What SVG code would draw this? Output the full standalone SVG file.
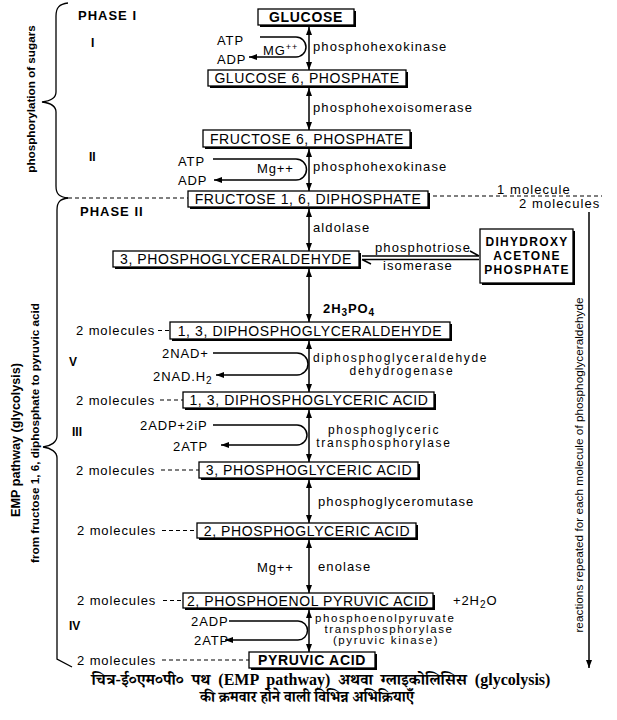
<svg xmlns="http://www.w3.org/2000/svg" width="617" height="720" viewBox="0 0 617 720">
<defs>
<style>
text{font-family:"Liberation Sans",Arial,Helvetica,sans-serif;fill:#000}
.bx{fill:#fff;stroke:#000;stroke-width:1.3}
.sh{fill:#000}
.bt{font-size:14px;letter-spacing:0.6px;text-anchor:middle}
.bb{font-weight:bold;letter-spacing:0.7px}
.dh{font-size:12px;font-weight:bold;letter-spacing:1.3px;text-anchor:middle}
.lb{font-size:13px;letter-spacing:1.1px}
.tl{font-size:12px;letter-spacing:1.7px}
.sl{font-size:11.5px;letter-spacing:1.6px}
.cf{font-size:13px;letter-spacing:0.9px}
.mid{text-anchor:middle}
.hd{font-size:13px;font-weight:bold;letter-spacing:1px}
.rn{font-size:12px;font-weight:bold}
.ln{fill:none;stroke:#000;stroke-width:1.5}
.dl{fill:none;stroke:#000;stroke-width:1.2;stroke-dasharray:4 3}
.br{fill:none;stroke:#000;stroke-width:1.3}
.hi{font-family:"Liberation Serif","Noto Serif Devanagari","Noto Sans Devanagari","Lohit Devanagari",FreeSerif,serif;font-size:15px;font-weight:bold;text-anchor:middle}
</style>
<marker id="ah" viewBox="0 0 8 6" refX="8" refY="3" markerWidth="8" markerHeight="6" markerUnits="userSpaceOnUse" orient="auto-start-reverse">
<path d="M0,0 L8,3 L0,6 z" fill="#000"/>
</marker>
</defs>
<rect x="0" y="0" width="617" height="720" fill="#fff"/>

<g id="connectors">
<path class="ln" d="M309,27 V70" marker-start="url(#ah)" marker-end="url(#ah)"/>
<path class="ln" d="M309,88 V130" marker-start="url(#ah)" marker-end="url(#ah)"/>
<path class="ln" d="M309,149 V191" marker-start="url(#ah)" marker-end="url(#ah)"/>
<path class="ln" d="M309,209 V251" marker-start="url(#ah)" marker-end="url(#ah)"/>
<path class="ln" d="M309,269 V322" marker-start="url(#ah)" marker-end="url(#ah)"/>
<path class="ln" d="M309,341 V392" marker-start="url(#ah)" marker-end="url(#ah)"/>
<path class="ln" d="M309,410 V462" marker-start="url(#ah)" marker-end="url(#ah)"/>
<path class="ln" d="M309,480 V523" marker-start="url(#ah)" marker-end="url(#ah)"/>
<path class="ln" d="M309,540 V593" marker-start="url(#ah)" marker-end="url(#ah)"/>
<path class="ln" d="M309,610 V652" marker-start="url(#ah)" marker-end="url(#ah)"/>
<!-- cofactor loops -->
<path class="ln" d="M260,37 H296 A10,10 0 0 1 296,57 H249" marker-end="url(#ah)"/>
<path class="ln" d="M213,159 H296 A10.5,10.5 0 0 1 296,180 H214" marker-end="url(#ah)"/>
<path class="ln" d="M213,353 H297 A11,11 0 0 1 297,375 H216" marker-end="url(#ah)"/>
<path class="ln" d="M213,425 H297 A10,10 0 0 1 297,445 H221" marker-end="url(#ah)"/>
<path class="ln" d="M229,621 H298 A9.5,9.5 0 0 1 298,640 H225" marker-end="url(#ah)"/>
<!-- equilibrium with DHAP -->
<path class="ln" d="M362,256 H479 M479,256 L470,251" stroke-width="1.3"/>
<path class="ln" d="M362,259.5 H479 M362,259.5 L371,264" stroke-width="1.3"/>
<!-- molecule dashed lines -->
<path class="dl" d="M68,198 H188"/>
<path class="dl" d="M433,196 H602"/>
<path class="dl" d="M158,330.5 H170"/>
<path class="dl" d="M160,400 H183"/>
<path class="dl" d="M161,470 H199"/>
<path class="dl" d="M162,530.5 H197"/>
<path class="dl" d="M163,600.5 H183"/>
<path class="dl" d="M162,660 H249"/>
<!-- right repeat arrow -->
<path class="ln" d="M589,212 V668" stroke-width="1.3" marker-end="url(#ah)"/>
<!-- braces -->
<path class="br" d="M68,3 C59,4 56,8 56,16 V92 C56,98 50,101 42,102 C50,103 56,106 56,112 V186 C56,194 59,197 68,198"/>
<path class="br" d="M68,198 C60,199 57,202 57,210 V436 C57,442 51,446 43,447 C51,448 57,452 57,458 V659 L72,667"/>
</g>

<g id="glucose"><rect class="sh" x="260" y="11" width="96" height="16"/><rect class="bx" x="258" y="9" width="96" height="16"/><text class="bt bb" x="306" y="22">GLUCOSE</text></g>
<g id="glucose6p"><rect class="sh" x="210" y="72" width="198" height="16"/><rect class="bx" x="208" y="70" width="198" height="16"/><text class="bt" x="307" y="83">GLUCOSE 6, PHOSPHATE</text></g>
<g id="fructose6p"><rect class="sh" x="205" y="132" width="207" height="17"/><rect class="bx" x="203" y="130" width="207" height="17"/><text class="bt" x="307" y="143.5">FRUCTOSE 6, PHOSPHATE</text></g>
<g id="fructose16dp"><rect class="sh" x="190" y="193" width="240" height="16"/><rect class="bx" x="188" y="191" width="240" height="16"/><text class="bt" x="308" y="204">FRUCTOSE 1, 6, DIPHOSPHATE</text></g>
<g id="pgal"><rect class="sh" x="115" y="253" width="246" height="16"/><rect class="bx" x="113" y="251" width="246" height="16"/><text class="bt" x="236" y="264">3, PHOSPHOGLYCERALDEHYDE</text></g>
<g id="dhap"><rect class="sh" x="482" y="231" width="93" height="54"/><rect class="bx" x="480" y="229" width="93" height="54"/>
<text class="dh" x="527" y="246">DIHYDROXY</text>
<text class="dh" x="527" y="260">ACETONE</text>
<text class="dh" x="527" y="274">PHOSPHATE</text></g>
<g id="dpgal"><rect class="sh" x="172" y="324" width="280" height="17"/><rect class="bx" x="170" y="322" width="280" height="17"/><text class="bt" x="310" y="335.5">1, 3, DIPHOSPHOGLYCERALDEHYDE</text></g>
<g id="dpga"><rect class="sh" x="185" y="394" width="251" height="16"/><rect class="bx" x="183" y="392" width="251" height="16"/><text class="bt" x="309" y="405">1, 3, DIPHOSPHOGLYCERIC ACID</text></g>
<g id="pga3"><rect class="sh" x="201" y="464" width="219" height="16"/><rect class="bx" x="199" y="462" width="219" height="16"/><text class="bt" x="309" y="475">3, PHOSPHOGLYCERIC ACID</text></g>
<g id="pga2"><rect class="sh" x="199" y="525" width="219" height="15"/><rect class="bx" x="197" y="523" width="219" height="15"/><text class="bt" x="307" y="535.5">2, PHOSPHOGLYCERIC ACID</text></g>
<g id="pep"><rect class="sh" x="185" y="595" width="250" height="15"/><rect class="bx" x="183" y="593" width="250" height="15"/><text class="bt" x="308" y="605.5">2, PHOSPHOENOL PYRUVIC ACID</text></g>
<g id="pyruvate"><rect class="sh" x="251" y="654" width="126" height="16"/><rect class="bx" x="249" y="652" width="126" height="16"/><text class="bt bb" x="312" y="665">PYRUVIC ACID</text></g>

<g id="labels">
<text class="hd" x="78" y="19.5">PHASE I</text>
<text class="hd" x="80" y="215.5">PHASE II</text>
<text class="rn" x="91" y="47">I</text>
<text class="rn" x="89" y="161">II</text>
<text class="rn" x="69" y="366">V</text>
<text class="rn" x="72" y="436">III</text>
<text class="rn" x="69" y="630">IV</text>

<text class="cf" x="217" y="44.5">ATP</text>
<text class="cf" x="217" y="63.5">ADP</text>
<text class="cf" x="263" y="54.5">MG<tspan dy="-5" font-size="9">++</tspan></text>
<text class="cf" x="178" y="165.5">ATP</text>
<text class="cf" x="178" y="184.5">ADP</text>
<text class="cf" x="257" y="172.5">Mg++</text>
<text class="cf" x="162" y="358">2NAD+</text>
<text class="cf" x="153" y="380.5">2NAD.H<tspan dy="3" font-size="10">2</tspan></text>
<text class="cf" x="140" y="429.5">2ADP+2iP</text>
<text class="cf" x="173" y="450.5">2ATP</text>
<text class="cf" x="257" y="572">Mg++</text>
<text class="cf" x="191" y="625.5">2ADP</text>
<text class="cf" x="194" y="644.5">2ATP</text>

<text class="lb" x="313" y="51">phosphohexokinase</text>
<text class="lb" x="313" y="112">phosphohexoisomerase</text>
<text class="lb" x="313" y="171">phosphohexokinase</text>
<text class="lb" x="313" y="232">aldolase</text>
<text class="lb" x="375" y="252">phosphotriose</text>
<text class="lb" x="383" y="270">isomerase</text>
<text class="cf" x="323" y="312.5" font-weight="bold">2H<tspan dy="3" font-size="10">3</tspan><tspan dy="-3">PO</tspan><tspan dy="3" font-size="10">4</tspan></text>
<text class="tl" x="313" y="361.5">diphosphoglyceraldehyde</text>
<text class="tl mid" x="402" y="375">dehydrogenase</text>
<text class="tl mid" x="384" y="433.5">phosphoglyceric</text>
<text class="tl mid" x="384" y="447">transphosphorylase</text>
<text class="lb" x="318" y="506">phosphoglyceromutase</text>
<text class="lb" x="318" y="571">enolase</text>
<text class="cf" x="453" y="605">+2H<tspan dy="3" font-size="10">2</tspan><tspan dy="-3">O</tspan></text>
<text class="sl" x="315" y="622">phosphoenolpyruvate</text>
<text class="sl mid" x="389" y="633">transphosphorylase</text>
<text class="sl mid" x="386" y="644">(pyruvic kinase)</text>

<text class="lb" x="497" y="194">1 molecule</text>
<text class="lb" x="519" y="208">2 molecules</text>
<text class="cf" x="76" y="335">2 molecules</text>
<text class="cf" x="76" y="404.5">2 molecules</text>
<text class="cf" x="76" y="474.5">2 molecules</text>
<text class="cf" x="77" y="535">2 molecules</text>
<text class="cf" x="77" y="605">2 molecules</text>
<text class="cf" x="77" y="664.5">2 molecules</text>

<text transform="translate(35,99) rotate(-90)" text-anchor="middle" font-size="11.7" font-weight="bold">phosphorylation of sugars</text>
<text transform="translate(20,440) rotate(-90)" text-anchor="middle" font-size="12.6" font-weight="bold">EMP pathway (glycolysis)</text>
<text transform="translate(39,433) rotate(-90)" text-anchor="middle" font-size="11.7" font-weight="bold">from fructose 1, 6, diphosphate to pyruvic acid</text>
<text transform="translate(583,465) rotate(-90)" text-anchor="middle" font-size="11.8">reactions repeated for each molecule of phosphoglyceraldehyde</text>

<text class="hi" x="321" y="685" style="font-size:16px;word-spacing:4px">चित्र-ई०एम०पी० पथ (EMP pathway) अथवा ग्लाइकोलिसिस (glycolysis)</text>
<text class="hi" x="307" y="702">की क्रमवार होने वाली विभिन्न अभिक्रियाएँ</text>
</g>
</svg>
